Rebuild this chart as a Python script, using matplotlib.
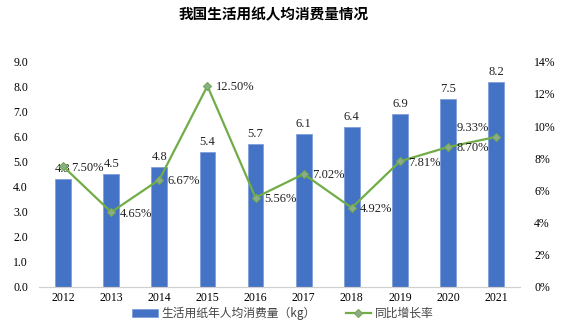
import matplotlib
matplotlib.use("Agg")
import matplotlib.pyplot as plt
from matplotlib.ticker import FuncFormatter

years = ["2012", "2013", "2014", "2015", "2016", "2017", "2018", "2019", "2020", "2021"]
consumption = [4.3, 4.5, 4.8, 5.4, 5.7, 6.1, 6.4, 6.9, 7.5, 8.2]
growth = [7.50, 4.65, 6.67, 12.50, 5.56, 7.02, 4.92, 7.81, 8.70, 9.33]

title = "我国生活用纸人均消费量情况"
bar_label = "生活用纸年人均消费量（kg）"
line_label = "同比增长率"

serif = ["Liberation Serif", "DejaVu Serif"]
cjk = ["Noto Sans CJK SC", "DejaVu Sans"]

fig = plt.figure(figsize=(5.66, 3.29), dpi=100)
ax = fig.add_axes([0.069, 0.128, 0.85, 0.684])
ax2 = ax.twinx()

x = list(range(len(years)))
bars = ax.bar(x, consumption, width=0.33, color="#4472C4", edgecolor="#7f9fdc", linewidth=0.6, zorder=2, label=bar_label)
ax.set_xlim(-0.5, len(years) - 0.5)
ax.set_ylim(0, 9)
ax.set_yticks([i for i in range(10)])
ax.yaxis.set_major_formatter(FuncFormatter(lambda v, p: f"{v:.1f}"))
ax.set_xticks(x)
ax.set_xticklabels(years)

for xi, v in zip(x, consumption):
    ax.annotate(f"{v:.1f}", (xi, v), xytext=(0, 3), textcoords="offset points",
                ha="center", va="bottom", fontsize=9, family=serif, color="#222222")

line, = ax2.plot(x, growth, color="#70AD47", linewidth=1.6, marker="D", markersize=4,
                 markerfacecolor="#8faa8f", markeredgecolor="#70AD47", markeredgewidth=0.8,
                 zorder=3, label=line_label)
ax2.set_ylim(0, 14)
ax2.set_yticks([0, 2, 4, 6, 8, 10, 12, 14])
ax2.yaxis.set_major_formatter(FuncFormatter(lambda v, p: f"{int(v)}%"))

for i, (xi, v) in enumerate(zip(x, growth)):
    if i == len(growth) - 1:
        ax2.annotate(f"{v:.2f}%", (xi, v), xytext=(-5, 2), textcoords="offset points",
                     ha="right", va="bottom", fontsize=9, family=serif, color="#222222")
    else:
        ax2.annotate(f"{v:.2f}%", (xi, v), xytext=(6, -1), textcoords="offset points",
                     ha="left", va="center", fontsize=9, family=serif, color="#222222")

for a in (ax, ax2):
    for s in ("top", "left", "right"):
        a.spines[s].set_visible(False)
    a.spines["bottom"].set_color("#d0d0d0")
    a.tick_params(length=0, labelsize=8.5)
    for lab in a.get_yticklabels() + a.get_xticklabels():
        lab.set_family(serif)
ax.tick_params(axis="y", pad=8)
ax2.tick_params(axis="y", pad=10)
ax.tick_params(axis="x", pad=4)

fig.text(0.483, 0.955, title, ha="center", va="center", fontsize=10.5, fontweight="bold", family=cjk)

leg = fig.legend([bars, line], [bar_label, line_label], loc="center", bbox_to_anchor=(0.5, 0.048),
                 ncol=2, frameon=False, prop={"family": cjk, "size": 8.5}, handlelength=2.2,
                 handletextpad=0.3, columnspacing=2.5)
for t in leg.get_texts():
    t.set_color("#444444")

fig.savefig("out.png", dpi=100)
